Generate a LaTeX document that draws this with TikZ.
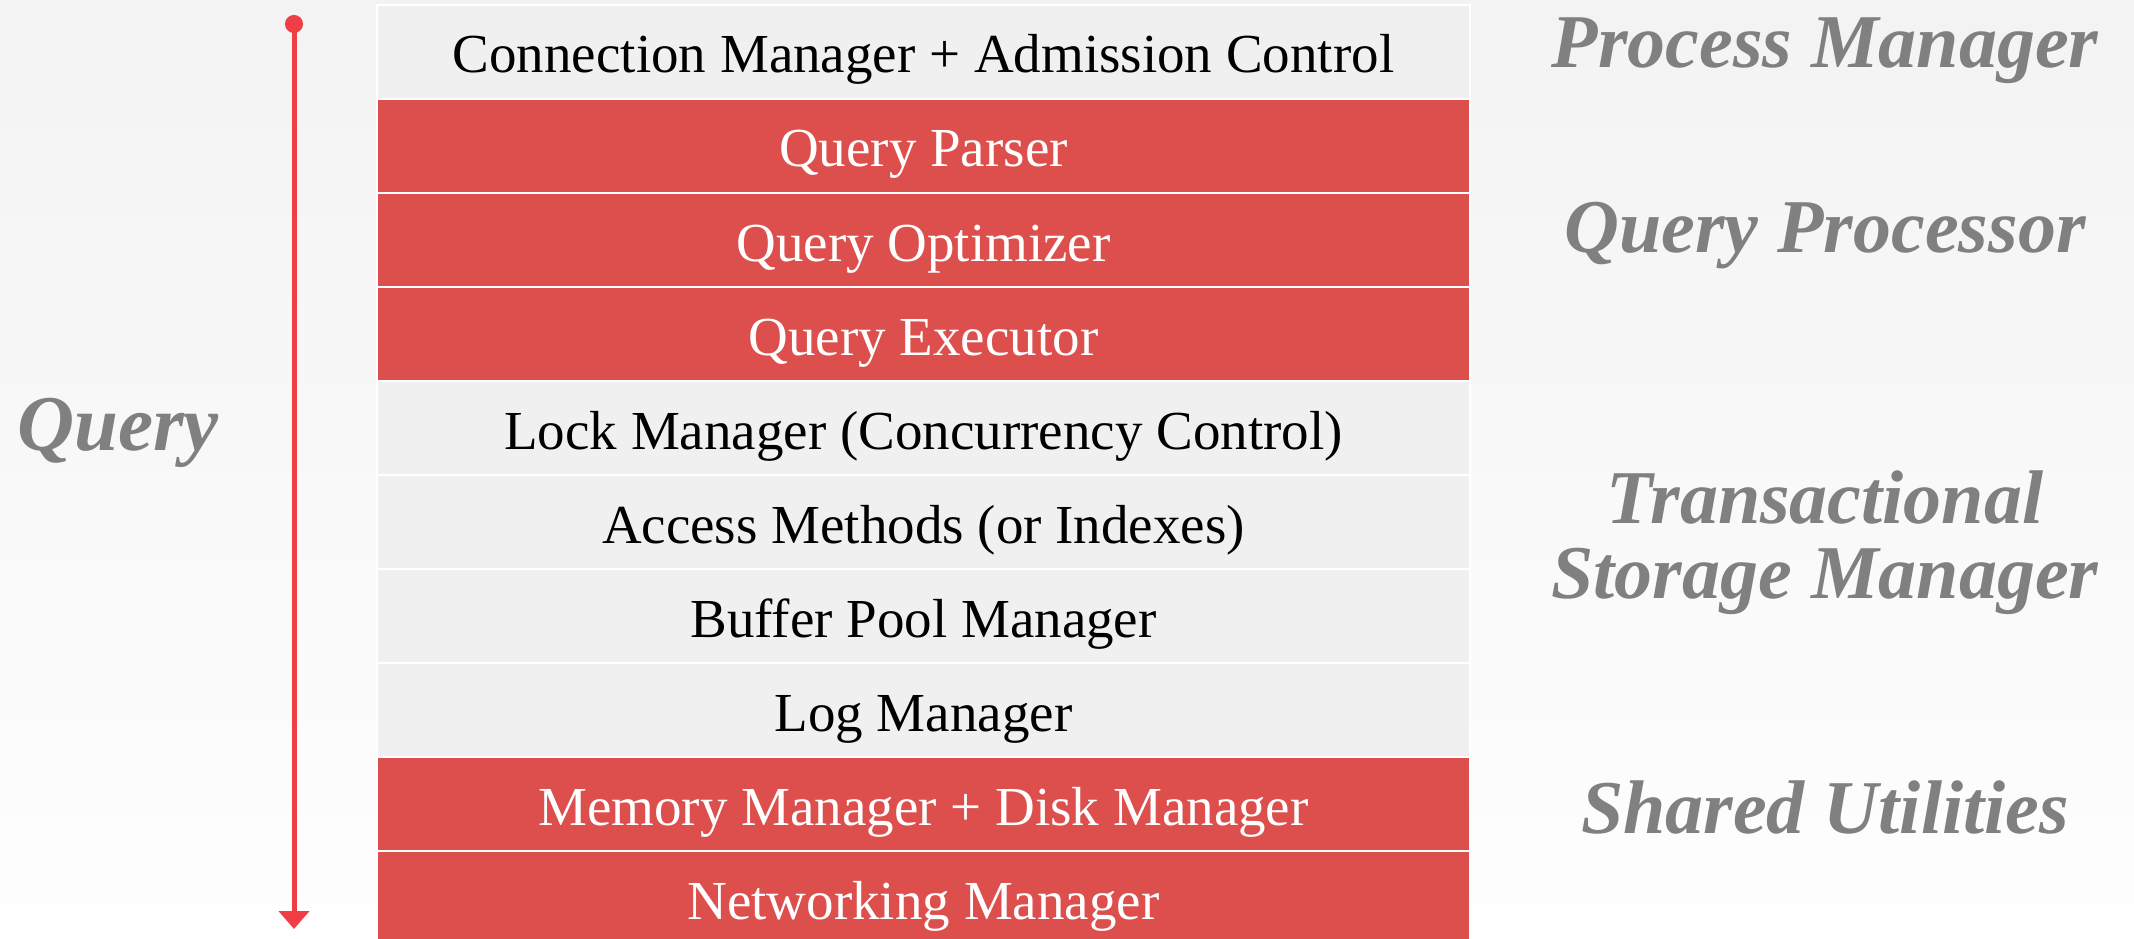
\documentclass[tikz,border=0pt]{standalone}
\usepackage{fontspec}
\setmainfont{Liberation Serif}
\usetikzlibrary{arrows.meta}
\definecolor{layerred}{HTML}{DD4F4C}
\definecolor{layergrey}{HTML}{F0F0F0}
\definecolor{flowred}{HTML}{EF3E45}
\definecolor{taggrey}{HTML}{808080}
\definecolor{bgtop}{HTML}{F3F3F3}
\definecolor{bgbot}{HTML}{FEFEFE}
\tikzset{
  layer/.style={draw=white, line width=2.5pt, minimum width=1093pt,
    minimum height=94pt, inner sep=0pt, text height=42pt, text depth=0pt,
    font=\fontsize{55}{60}\selectfont},
  hot/.style={layer, fill=layerred, text=white},
  cold/.style={layer, fill=layergrey, text=black},
  tag/.style={text=taggrey, inner sep=0pt, align=center,
    font=\fontsize{76}{75}\selectfont\bfseries\itshape},
  flow/.style={draw=flowred, line width=5pt,
    {Circle[length=18pt]}-{Triangle[width=30pt,length=18pt]}}
}
\begin{document}
\begin{tikzpicture}[x=1pt,y=-1pt]
  \useasboundingbox (0,0) rectangle (2134,939);
  \clip (0,0) rectangle (2134,939);
  \shade[top color=bgtop, bottom color=bgbot] (0,0) rectangle (2134,939);

  % layer stack
  \node[cold] (c1)  at (923.5,52)  {Connection Manager + Admission Control};
  \node[hot]  (c2)  at (923.5,146) {Query Parser};
  \node[hot]  (c3)  at (923.5,240) {Query Optimizer};
  \node[hot]  (c4)  at (923.5,334) {Query Executor};
  \node[cold] (c5)  at (923.5,428) {Lock Manager (Concurrency Control)};
  \node[cold] (c6)  at (923.5,522) {Access Methods (or Indexes)};
  \node[cold] (c7)  at (923.5,616) {Buffer Pool Manager};
  \node[cold] (c8)  at (923.5,710) {Log Manager};
  \node[hot]  (c9)  at (923.5,804) {Memory Manager + Disk Manager};
  \node[hot]  (c10) at (923.5,898) {Networking Manager};

  % component groups (base anchor sits on the last line)
  \node[tag, anchor=base] (pm) at (1825,68)  {Process Manager};
  \node[tag, anchor=base] (qp) at (1825,252) {Query Processor};
  \node[tag, anchor=base] (ts) at (1825,598) {Transactional\\Storage Manager};
  \node[tag, anchor=base] (su) at (1825,833) {Shared Utilities};

  % query direction
  \node[tag, anchor=base, font=\fontsize{79}{80}\selectfont\bfseries\itshape]
    (q) at (118,450) {Query};
  \coordinate (qtop) at (294,15);
  \coordinate (qbot) at (294,929);
  \draw[flow] (qtop) -- (qbot);
\end{tikzpicture}
\end{document}
